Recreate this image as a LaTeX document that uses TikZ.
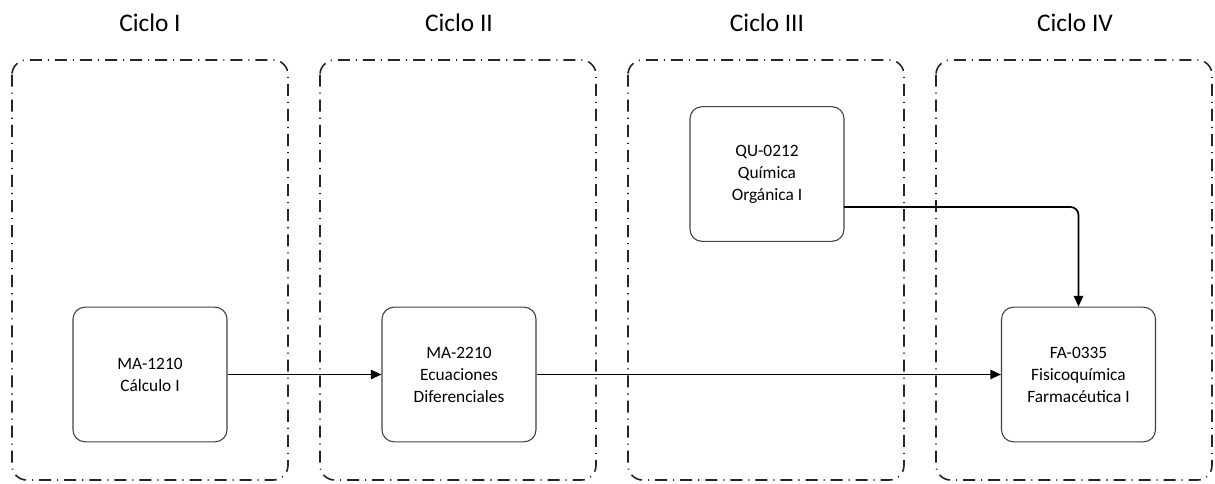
\documentclass[tikz,border=0pt]{standalone}
\usepackage{fontspec}
\setmainfont{Carlito}
\usetikzlibrary{arrows.meta}
\begin{document}
\begin{tikzpicture}[x=0.75pt,y=-0.75pt,
  cyclebox/.style={draw=black!85,line width=1.2pt,rounded corners=11pt,
    dash pattern=on 9pt off 4.5pt on 0.8pt off 4.5pt},
  course/.style={draw=black!75,line width=0.8pt,rounded corners=9pt,
    minimum width=115.5pt,minimum height=101pt,align=center,
    font=\fontsize{13}{16.5}\selectfont,inner sep=0pt},
  header/.style={font=\fontsize{19}{22}\selectfont},
  conn/.style={draw=black,line width=1.3pt,rounded corners=6pt,
    -{Triangle[length=8pt,width=7pt]}}]
\useasboundingbox (0,0) rectangle (1215,483);
% cycle containers
\draw[cyclebox] (12,60) rectangle (288,480);
\draw[cyclebox] (320,60) rectangle (596,480);
\draw[cyclebox] (628,60) rectangle (904,480);
\draw[cyclebox] (936,60) rectangle (1212,480);
% headers
\node[header] (h1) at (150,23) {Ciclo I};
\node[header] (h2) at (459,23) {Ciclo II};
\node[header] (h3) at (767,23) {Ciclo III};
\node[header] (h4) at (1075,23) {Ciclo IV};
% courses
\node[course] (ma1) at (150,374.5) {MA-1210\\Cálculo I};
\node[course] (ma2) at (459,374.5) {MA-2210\\Ecuaciones\\Diferenciales};
\node[course] (qu) at (767,174) {QU-0212\\Química\\Orgánica I};
\node[course] (fa) at (1078.5,374.5) {FA-0335\\Fisicoquímica\\Farmacéutica I};
% connectors
\coordinate (qout) at (844,207);
\draw[conn] (ma1.east) -- (ma2.west);
\draw[conn] (ma2.east) -- (fa.west);
\draw[conn] (qout) -| (fa.north);
\end{tikzpicture}
\end{document}
